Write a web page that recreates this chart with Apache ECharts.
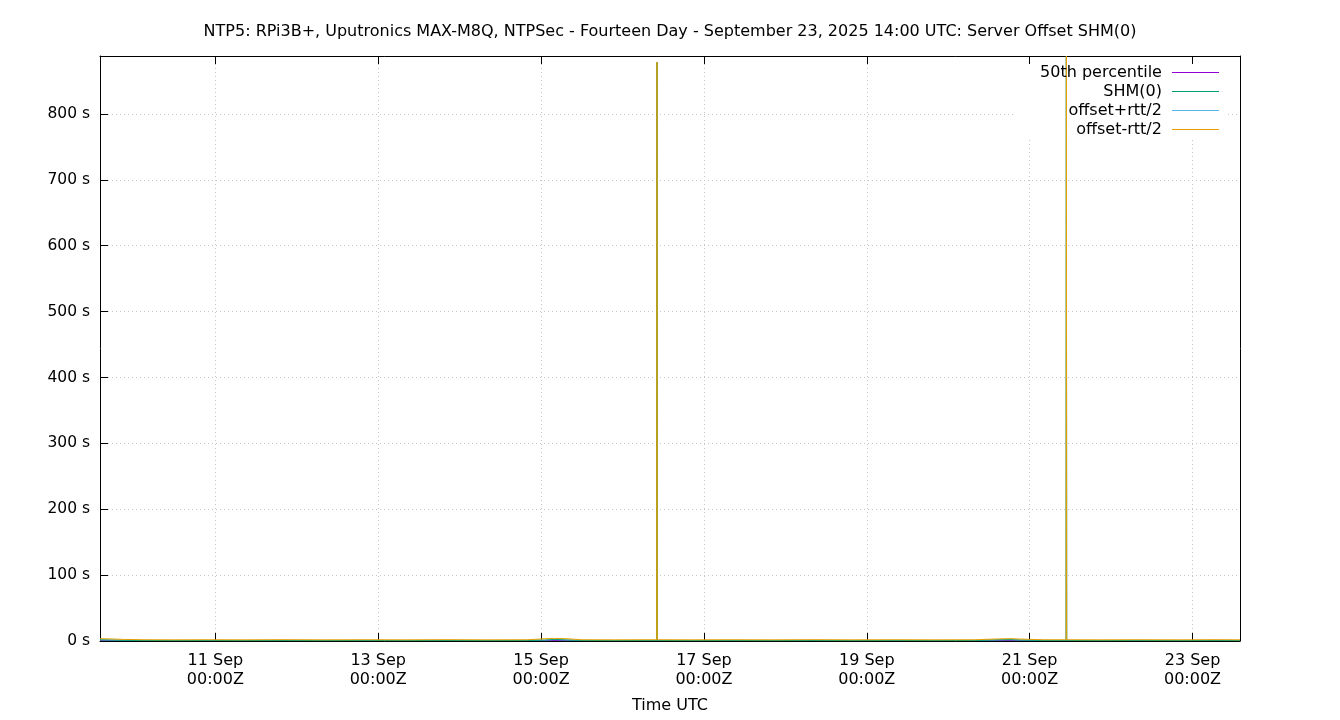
<!DOCTYPE html>
<html>
<head>
<meta charset="utf-8">
<title>NTP5 Server Offset SHM(0)</title>
<script src="https://cdn.jsdelivr.net/npm/echarts@6/dist/echarts.min.js"></script>
<style>
  html, body { margin: 0; padding: 0; background: #fff; }
  #chart { width: 1340px; height: 720px; }
</style>
</head>
<body>
<div id="chart"></div>
<script>

// sample times (UTC) and offsets in seconds
var sampleTimes = [
    '2025-09-09 14:00', '2025-09-09 17:00', '2025-09-09 21:00', '2025-09-10 03:00',
    '2025-09-10 12:00', '2025-09-10 22:00', '2025-09-11 08:00', '2025-09-11 20:00',
    '2025-09-12 08:00', '2025-09-12 20:00', '2025-09-13 08:00', '2025-09-13 20:00',
    '2025-09-14 08:00', '2025-09-14 20:00', '2025-09-15 01:00', '2025-09-15 04:00',
    '2025-09-15 07:30', '2025-09-15 12:00', '2025-09-15 22:00', '2025-09-16 06:00',
    '2025-09-16 10:05', '2025-09-16 10:10', '2025-09-16 10:15', '2025-09-16 20:00',
    '2025-09-17 08:00', '2025-09-17 20:00', '2025-09-18 08:00', '2025-09-18 20:00',
    '2025-09-19 08:00', '2025-09-19 20:00', '2025-09-20 08:00', '2025-09-20 15:00',
    '2025-09-20 18:30', '2025-09-20 21:00', '2025-09-21 04:00', '2025-09-21 10:45',
    '2025-09-21 10:50', '2025-09-21 10:55', '2025-09-21 20:00', '2025-09-22 08:00',
    '2025-09-22 20:00', '2025-09-23 08:00', '2025-09-23 14:00'
];
var shmOffset = [
    1.8, 1.5, 1.0, 0.8, 0.7, 0.8, 0.7, 0.8, 0.7, 0.8, 0.7, 0.8, 0.7, 0.8, 1.4, 2.2,
    1.6, 0.8, 0.7, 0.8, 0.8, 878, 0.8, 0.7, 0.8, 0.7, 0.8, 0.7, 0.8, 0.7, 0.8, 1.8,
    2.0, 1.5, 0.8, 0.8, 887, 0.8, 0.7, 0.8, 0.7, 0.8, 0.7
];
var offsetPlusRtt = [
    1.7, 1.4, 0.9, 0.7, 0.6, 0.7, 0.6, 0.7, 0.6, 0.7, 0.6, 0.7, 0.6, 0.7, 1.3, 2.1,
    1.5, 0.7, 0.6, 0.7, 0.7, 878, 0.7, 0.6, 0.7, 0.6, 0.7, 0.6, 0.7, 0.6, 0.7, 1.7,
    1.9, 1.4, 0.7, 0.7, 887, 0.7, 0.6, 0.7, 0.6, 0.7, 0.6
];
var offsetMinusRtt = [
    3.6, 3.2, 2.4, 1.9, 1.8, 1.9, 1.8, 2.0, 1.8, 1.9, 1.8, 2.0, 1.8, 1.9, 3.4, 4.0,
    3.5, 1.9, 1.8, 1.9, 1.9, 879, 1.9, 1.8, 1.9, 1.8, 2.0, 1.8, 1.9, 1.8, 1.9, 3.2,
    3.6, 3.0, 1.9, 1.9, 888, 1.9, 1.8, 1.9, 1.8, 2.0, 1.8
];
var percentile50 = 0.8;

var tickDays = ['2025-09-11', '2025-09-13', '2025-09-15', '2025-09-17',
                '2025-09-19', '2025-09-21', '2025-09-23'];
var monthNames = ['Jan', 'Feb', 'Mar', 'Apr', 'May', 'Jun',
                  'Jul', 'Aug', 'Sep', 'Oct', 'Nov', 'Dec'];

function utc(s) {
    var d = s.split(' ')[0].split('-'), t = (s.split(' ')[1] || '00:00').split(':');
    return Date.UTC(+d[0], +d[1] - 1, +d[2], +t[0], +t[1]);
}

var xMin = utc('2025-09-09 14:00'), xMax = utc('2025-09-23 14:00');
var tickValues = tickDays.map(utc);

function pairs(vals) {
    return sampleTimes.map(function (t, i) { return [utc(t), vals[i]]; });
}

function lineSeries(name, color, data) {
    return { name: name, type: 'line', showSymbol: false, symbol: 'none',
             xAxisIndex: 0, yAxisIndex: 0,
             itemStyle: { color: color }, lineStyle: { color: color, width: 1 },
             data: data };
}

var font = 'DejaVu Sans';
var grid_line = { show: true, lineStyle: { color: '#c4c4c4', width: 1, type: [1, 3] } };
var border = { show: true, onZero: false, lineStyle: { color: '#000', width: 1 } };

var myChart = echarts.init(document.getElementById('chart'));
var option = {
    animation: false,
    backgroundColor: '#ffffff',
    textStyle: { fontFamily: font },
    title: {
        text: 'NTP5: RPi3B+, Uputronics MAX-M8Q, NTPSec - Fourteen Day - September 23, 2025 14:00 UTC: Server Offset SHM(0)',
        left: 'center', top: 19,
        textStyle: { fontFamily: font, fontSize: 16, fontWeight: 'normal', color: '#000' }
    },
    grid: { left: 100, right: 100, top: 56, bottom: 79, containLabel: false,
            outerBoundsMode: 'none' },
    // opaque key box: hides the grid behind it, data still drawn over it
    graphic: [{
        type: 'rect', z: 1, silent: true,
        shape: { x: 1013, y: 64, width: 215, height: 73 },
        style: { fill: '#ffffff' }
    }],
    legend: {
        orient: 'vertical', right: 121, top: 63, align: 'right', padding: 0,
        icon: 'rect', itemWidth: 47, itemHeight: 1, itemGap: 0,
        selectedMode: false,
        itemStyle: { borderWidth: 0 },
        formatter: function (name) { return name + ' '; },
        textStyle: { fontFamily: font, fontSize: 16, color: '#000', lineHeight: 19 },
        data: ['50th percentile', 'SHM(0)', 'offset+rtt/2', 'offset-rtt/2']
    },
    xAxis: [
        {
            type: 'value', min: xMin, max: xMax, position: 'bottom',
            name: 'Time UTC', nameLocation: 'middle', nameGap: 57,
            nameTextStyle: { fontFamily: font, fontSize: 16, color: '#000' },
            axisLine: border,
            axisTick: { show: true, inside: true, length: 8, customValues: tickValues,
                        lineStyle: { color: '#000', width: 1 } },
            axisLabel: {
                customValues: tickValues, margin: 10, color: '#000',
                fontFamily: font, fontSize: 16, lineHeight: 19,
                formatter: function (v) {
                    var d = new Date(v);
                    return d.getUTCDate() + ' ' + monthNames[d.getUTCMonth()] + '\n00:00Z';
                }
            },
            splitLine: grid_line
        },
        {
            type: 'value', min: xMin, max: xMax, position: 'top',
            axisLine: border,
            axisTick: { show: true, inside: true, length: 8, customValues: tickValues,
                        lineStyle: { color: '#000', width: 1 } },
            axisLabel: { show: false, customValues: tickValues },
            splitLine: { show: false }
        }
    ],
    yAxis: [
        {
            type: 'value', min: 0, max: 888, interval: 100, position: 'left',
            axisLine: border,
            axisTick: { show: true, inside: true, length: 8, lineStyle: { color: '#000' } },
            axisLabel: { color: '#000', fontFamily: font, fontSize: 15.5, margin: 10,
                         showMaxLabel: false,
                         formatter: function (v) { return v + ' s'; } },
            splitLine: grid_line
        },
        {
            type: 'value', min: 0, max: 888, interval: 100, position: 'right',
            axisLine: border,
            axisTick: { show: false },
            axisLabel: { show: false },
            splitLine: { show: false }
        }
    ],
    series: [
        lineSeries('50th percentile', '#9400d3', [[xMin, percentile50], [xMax, percentile50]]),
        lineSeries('offset+rtt/2', '#56b4e9', pairs(offsetPlusRtt)),
        lineSeries('SHM(0)', '#009e73', pairs(shmOffset)),
        lineSeries('offset-rtt/2', '#e69f00', pairs(offsetMinusRtt))
    ]
};
myChart.setOption(option);
window.addEventListener("resize", function() { myChart.resize(); });
</script>
</body>
</html>
